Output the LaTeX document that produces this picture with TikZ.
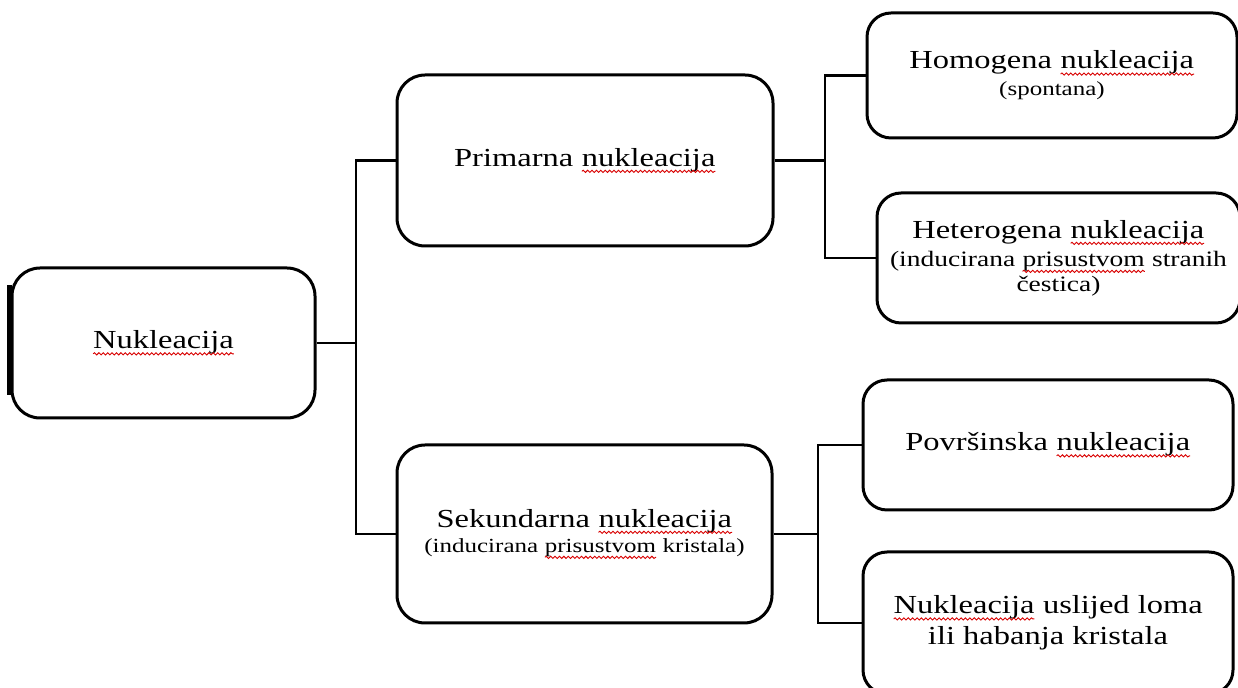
\documentclass[tikz,border=0pt]{standalone}
\usepackage{fontspec}
\setmainfont{Liberation Serif}[FakeStretch=1.25]
\usepackage{tikz}
\usetikzlibrary{decorations.pathmorphing}
\tikzstyle{nbox} = [draw=black, fill=white, line width=1.5pt,
    rectangle, rounded corners=14pt, align=center, inner sep=0pt,
    font=\fontsize{13}{15.5}\selectfont]
\tikzstyle{leafbox} = [nbox, rounded corners=12pt]
\tikzstyle{branch} = [draw=black, line width=1.2pt]
\tikzstyle{wword} = [draw=none, fill=none, rounded corners=0pt, inner sep=0pt,
    outer sep=0pt, minimum width=0pt, minimum height=0pt, anchor=base]
\tikzstyle{squiggle} = [draw=red!85!black, line width=0.45pt, rounded corners=0pt,
    decorate, decoration={snake, amplitude=0.55pt, segment length=2.2pt}]
\newcommand{\wavy}[1]{\tikz[baseline=(w.base)]{\node[wword] (w) at (0,0) {#1};
    \draw[squiggle] ([yshift=-2.6pt]w.base west) -- ([yshift=-2.6pt]w.base east);}}
\newcommand{\subline}[1]{{\fontsize{10}{12}\selectfont #1}}

\begin{document}
\begin{tikzpicture}[x=0.5pt, y=-0.5pt]
    \useasboundingbox (0,0) rectangle (1238,688);
    % left side
    \node [nbox, minimum width=151.5pt, minimum height=75pt] (nuk) at (163.5,343) {\wavy{Nukleacija}};
    \draw [line width=2.4pt] ([shift={(-1,-58)}]nuk.west) -- ([shift={(-1,52)}]nuk.west);
    \node [nbox, minimum width=188pt, minimum height=85.5pt] (prim) at (585,160.5) {Primarna \wavy{nukleacija}};
    \node [nbox, minimum width=187.5pt, minimum height=89pt] (sek) at (584.5,534) {Sekundarna \wavy{nukleacija}\\[-3pt]
        \subline{(inducirana \wavy{prisustvom} kristala)}};
    % right side
    \node [leafbox, minimum width=185pt, minimum height=62.5pt] (hom) at (1052,75.5) {Homogena \wavy{nukleacija}\\[-2pt]
        \subline{(spontana)}};
    \node [leafbox, minimum width=181.5pt, minimum height=65pt] (het) at (1058.5,258) {Heterogena \wavy{nukleacija}\\[-1.5pt]
        {\fontsize{11}{13}\selectfont (inducirana \wavy{prisustvom} stranih}\\[-3pt]
        {\fontsize{11}{13}\selectfont čestica)}};
    \node [leafbox, minimum width=185pt, minimum height=65pt] (pov) at (1048,445) {Površinska \wavy{nukleacija}};
    \node [leafbox, minimum width=185pt, minimum height=71pt] (los) at (1048,623) {\wavy{Nukleacija} uslijed loma\\
        ili habanja kristala};
    % connectors
    \coordinate (j1) at (356,343);
    \coordinate (j2) at (825,160.5);
    \coordinate (j3) at (818,534);
    \draw [branch] (nuk.east) -- (j1);
    \draw [branch] (prim.west) -| (j1);
    \draw [branch] (sek.west) -| (j1);
    \draw [branch] (prim.east) -- (j2);
    \draw [branch] (hom.west) -| (j2);
    \draw [branch] (het.west) -| (j2);
    \draw [branch] (sek.east) -- (j3);
    \draw [branch] (pov.west) -| (j3);
    \draw [branch] (los.west) -| (j3);
\end{tikzpicture}
\end{document}
